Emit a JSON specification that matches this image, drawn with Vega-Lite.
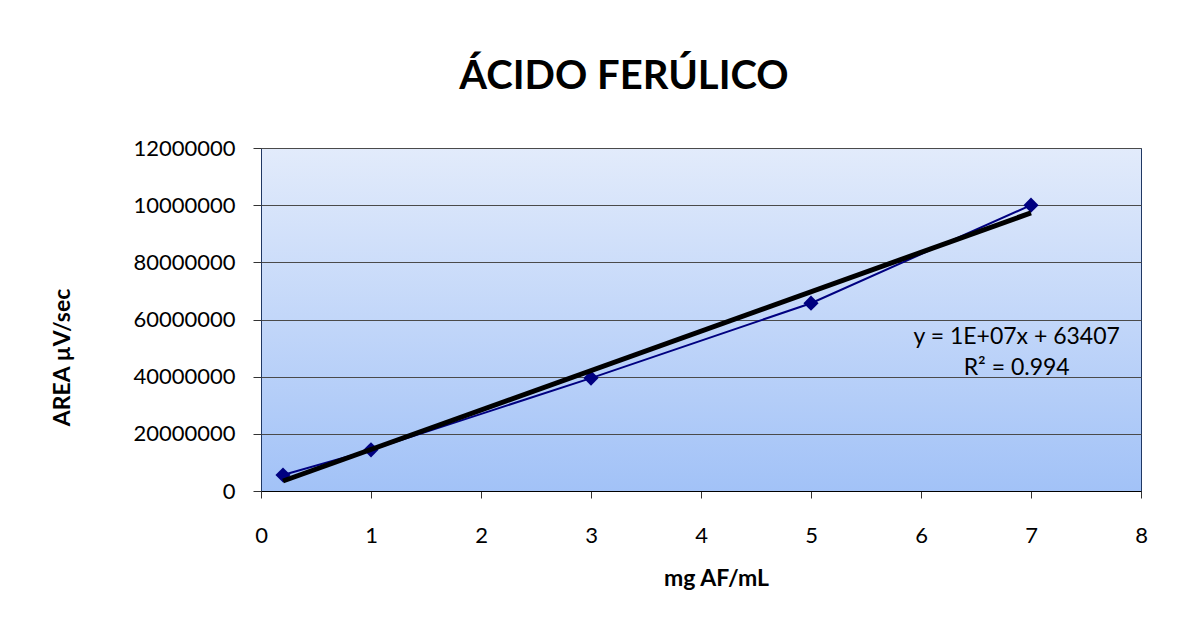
{
  "$schema": "https://vega.github.io/schema/vega-lite/v6.json",
  "autosize": {"type": "none"},
  "width": 880,
  "height": 343,
  "padding": {"left": 261, "top": 148, "right": 36, "bottom": 137},
  "background": "white",
  "title": {
    "text": "ÁCIDO FERÚLICO",
    "font": "Lato",
    "fontSize": 40,
    "fontWeight": "bold",
    "color": "black",
    "anchor": "middle",
    "frame": "group",
    "dx": -77,
    "offset": 40
  },
  "datasets": {
    "series": [
      {"conc": 0.2, "area": 5600000},
      {"conc": 1, "area": 14400000},
      {"conc": 3, "area": 39500000},
      {"conc": 5, "area": 65700000},
      {"conc": 7, "area": 100000000}
    ],
    "trend": [
      {"conc": 0.2, "area": 3500000},
      {"conc": 7, "area": 97300000}
    ]
  },
  "config": {
    "font": "Lato",
    "view": {
      "stroke": "#203864",
      "strokeWidth": 1,
      "fill": {
        "gradient": "linear",
        "x1": 0, "y1": 0, "x2": 0, "y2": 1,
        "stops": [
          {"offset": 0, "color": "#e2ebfb"},
          {"offset": 1, "color": "#a2c2f7"}
        ]
      }
    },
    "axis": {
      "labelFont": "Lato",
      "labelFontSize": 22,
      "labelColor": "black",
      "labelFlush": false,
      "titleFont": "Lato",
      "titleFontSize": 23,
      "titleFontWeight": "bold",
      "titleColor": "black",
      "domainColor": "black",
      "tickColor": "#333333",
      "tickSize": 7,
      "gridColor": "#4a4a4a",
      "gridWidth": 1
    }
  },
  "layer": [
    {
      "data": {"name": "series"},
      "mark": {"type": "line", "color": "#000080", "strokeWidth": 2},
      "encoding": {
        "x": {
          "field": "conc", "type": "quantitative",
          "scale": {"domain": [0, 8], "nice": false},
          "axis": {
            "title": "mg AF/mL",
            "values": [0, 1, 2, 3, 4, 5, 6, 7, 8],
            "format": "d",
            "grid": false,
            "labelPadding": 27,
            "titleX": 455,
            "titleY": 87,
            "titleBaseline": "middle"
          }
        },
        "y": {
          "field": "area", "type": "quantitative",
          "scale": {"domain": [0, 120000000], "nice": false},
          "axis": {
            "title": "AREA µV/sec",
            "values": [0, 20000000, 40000000, 60000000, 80000000, 100000000, 120000000],
            "format": "d",
            "labelExpr": "datum.value == 120000000 ? '12000000' : datum.value == 100000000 ? '10000000' : datum.label",
            "grid": true,
            "domain": false,
            "labelPadding": 18,
            "tickSize": 8,
            "titleX": -199,
            "titleY": 209,
            "titleBaseline": "middle",
            "titleAlign": "center",
            "titleAngle": -90
          }
        }
      }
    },
    {
      "data": {"name": "series"},
      "mark": {"type": "point", "shape": "diamond", "filled": true, "color": "#000080", "size": 230, "opacity": 1},
      "encoding": {
        "x": {"field": "conc", "type": "quantitative"},
        "y": {"field": "area", "type": "quantitative"}
      }
    },
    {
      "data": {"name": "trend"},
      "mark": {"type": "line", "color": "black", "strokeWidth": 5},
      "encoding": {
        "x": {"field": "conc", "type": "quantitative"},
        "y": {"field": "area", "type": "quantitative"}
      }
    },
    {
      "data": {"values": [{"label": "y = 1E+07x + 63407\nR² = 0.994"}]},
      "mark": {"type": "text", "font": "Lato", "fontSize": 23, "color": "black", "align": "center", "baseline": "middle", "lineBreak": "\n", "lineHeight": 31},
      "encoding": {
        "x": {"datum": 6.87, "type": "quantitative"},
        "y": {"datum": 54000000, "type": "quantitative"},
        "text": {"field": "label"}
      }
    }
  ]
}
